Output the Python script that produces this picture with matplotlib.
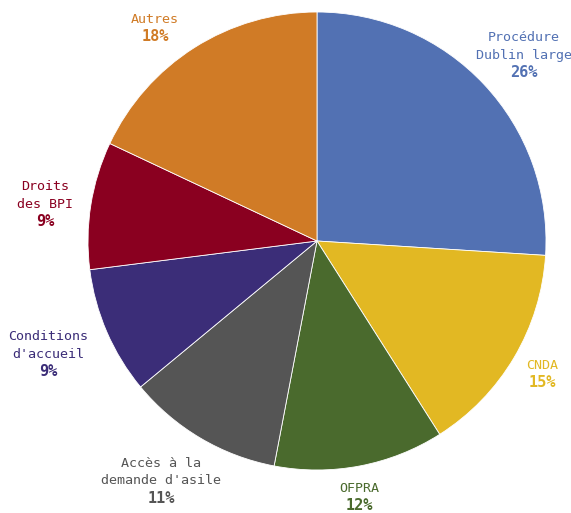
import matplotlib.pyplot as plt

labels = ['Procédure\nDublin large', 'CNDA', 'OFPRA', 'Accès à la\ndemande d\'asile',
          'Conditions\nd\'accueil', 'Droits\ndes BPI', 'Autres']
values = [26, 15, 12, 11, 9, 9, 18]
colors = ['#5271b3', '#e2b823', '#4a6a2d', '#555555', '#3b2d78', '#8a0020', '#d07b26']
# centre des blocs d'étiquettes (pixels, depuis le haut à gauche)
label_pos = [(524, 55), (542, 374), (359, 497), (161, 481), (48, 354), (45, 204), (155, 28)]

W, H = 571, 513
fig = plt.figure(figsize=(W / 100, H / 100), dpi=100)
ax = fig.add_axes([0, 0, 1, 1])

cx, cy, r = 317, H - 241, 229
ax.pie(values, colors=colors, startangle=90, counterclock=False,
       center=(cx, cy), radius=r, frame=True,
       wedgeprops=dict(edgecolor='white', linewidth=0.6))
ax.set_xlim(0, W)
ax.set_ylim(0, H)
ax.set_aspect('equal')
ax.axis('off')

font = 'DejaVu Sans Mono'
step = 17.5
for lab, v, c, (x, y) in zip(labels, values, colors, label_pos):
    lines = lab.split('\n') + [f'{v}%']
    n = len(lines)
    for i, line in enumerate(lines):
        yy = H - y + (n - 1) / 2 * step - i * step
        last = i == n - 1
        ax.text(x, yy, line, ha='center', va='center', color=c,
                fontsize=11 if last else 9.6, family=font,
                fontweight='bold' if last else 'normal')

fig.savefig('out.png', dpi=100)
